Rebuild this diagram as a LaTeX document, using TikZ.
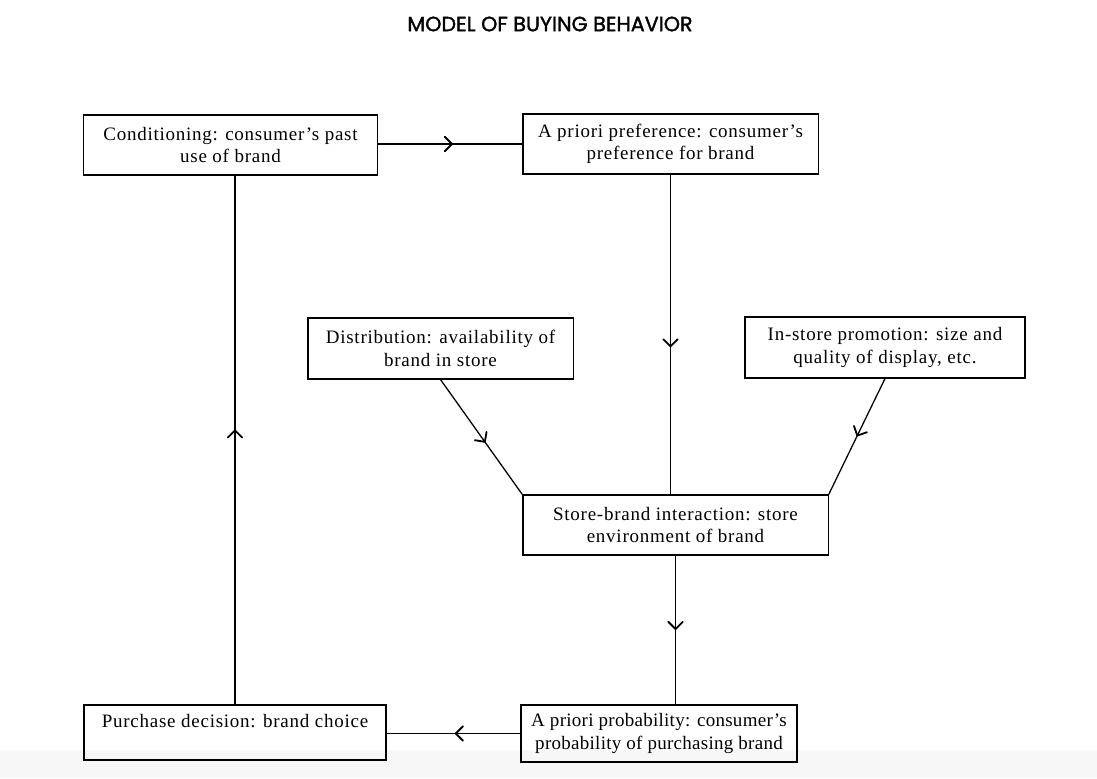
\documentclass[tikz,border=0pt]{standalone}
\usepackage{fontspec}
\setmainfont{Liberation Serif}
\newfontfamily\titlefont[FakeBold=1.5]{Poppins}
\newfontfamily\boxfont[LetterSpace=4]{Liberation Serif}
\newfontfamily\tightfont[LetterSpace=1.5]{Liberation Serif}
\usetikzlibrary{arrows.meta,decorations.markings}

\begin{document}
\begin{tikzpicture}[x=0.025cm,y=-0.025cm,
  box/.style={draw,line width=0.9pt,align=center,inner sep=0pt,font=\boxfont\fontsize{13.5}{16}\selectfont},
  flow/.style={line width=0.9pt,postaction={decorate},decoration={markings,
    mark=at position #1 with {\arrow{Straight Barb[length=1.8mm,width=3.6mm,line width=1.3pt,round]}}}},
  flow/.default=0.5]
\useasboundingbox (0,0) rectangle (1097,778);
\fill[black!3] (0,750) rectangle (1097,778);
\node[font=\titlefont\fontsize{14.7}{16}\selectfont] (title) at (550,24) {MODEL OF BUYING BEHAVIOR};
% boxes
\node[box,minimum width=7.33cm,minimum height=1.5cm] (cond) at (230.5,145) {Conditioning: consumer’s past\\use of brand};
\node[box,minimum width=7.38cm,minimum height=1.5cm] (pref) at (670.5,144) {A priori preference: consumer’s\\preference for brand};
\node[box,minimum width=6.63cm,minimum height=1.52cm] (dist) at (440.5,348.5) {Distribution: availability of\\brand in store};
\node[box,minimum width=7cm,minimum height=1.52cm] (promo) at (885,347.5) {In-store promotion: size and\\quality of display, etc.};
\node[box,minimum width=7.63cm,minimum height=1.5cm] (store) at (675.5,525) {Store-brand interaction: store\\environment of brand};
\node[box,font=\tightfont\fontsize{13.5}{16}\selectfont,minimum width=6.9cm,minimum height=1.43cm] (prob) at (659,733.5) {A priori probability: consumer’s\\probability of purchasing brand};
\node[box,minimum width=7.55cm,minimum height=1.38cm] (purch) at (235,732.5) {Purchase decision: brand choice\\\mbox{}};
% connectors
\draw[flow=0.52] (cond.east |- pref.west) -- (pref.west);
\draw[flow=0.54] (pref.south) -- (pref.south |- store.north);
\draw[flow=0.55] (dist.south) -- (store.north west);
\draw[flow] (promo.south) -- (store.north east);
\draw[flow] (store.south) -- (store.south |- prob.north);
\draw[flow=0.49] (prob.west) -- (purch.east |- prob.west);
\draw[flow=0.52] (purch.north) -- (purch.north |- cond.south);
\end{tikzpicture}
\end{document}
